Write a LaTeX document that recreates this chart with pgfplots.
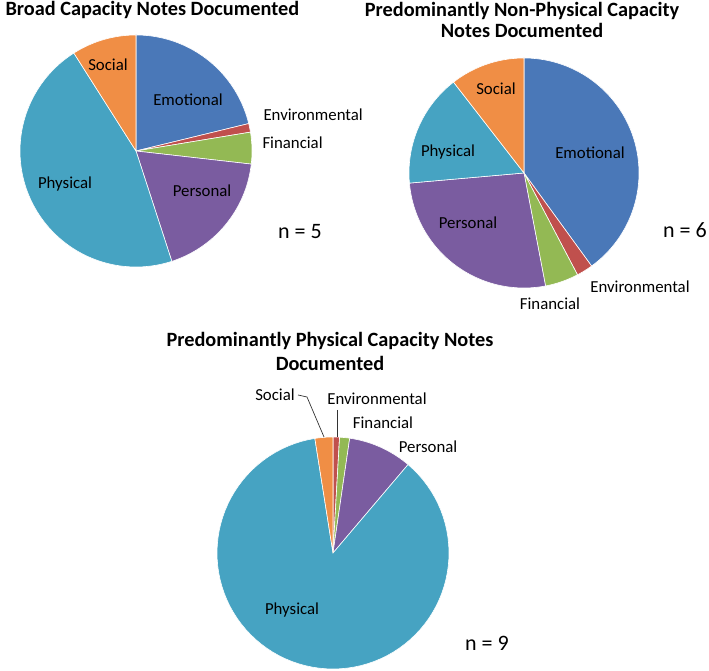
\documentclass[border=0pt]{standalone}
\usepackage{fontspec}
\setmainfont{Carlito}
\usepackage{pgfplots}
\pgfplotsset{compat=1.18}
\definecolor{cEmo}{HTML}{4A78B8}
\definecolor{cEnv}{HTML}{C0504D}
\definecolor{cFin}{HTML}{93B954}
\definecolor{cPer}{HTML}{7A5CA0}
\definecolor{cPhy}{HTML}{46A3C2}
\definecolor{cSoc}{HTML}{F08E45}
\definecolor{lbl}{HTML}{1A1A2A}
% shares (percent), clockwise from 12 o'clock:
% Emotional, Environmental, Financial, Personal, Physical, Social
\def\pieA{21.2/cEmo,1.2/cEnv,4.4/cFin,18.2/cPer,46.0/cPhy,9.0/cSoc}
\def\pieB{40.0/cEmo,2.3/cEnv,4.7/cFin,26.6/cPer,15.9/cPhy,10.5/cSoc}
\def\pieC{0/cEmo,0.9/cEnv,1.4/cFin,8.9/cPer,86.3/cPhy,2.5/cSoc}
\newcommand{\drawpie}[4]{% cx, cy, r, data
  \xdef\aStart{90}%
  \foreach \v/\col in #4 {%
    \ifdim\v pt>0pt
      \pgfmathsetmacro\aEnd{\aStart-3.6*\v}%
      \edef\temp{\noexpand\addplot[fill=\col, draw=white, line width=0.6pt, domain=\aEnd:\aStart, samples=90] ({#1+#3*cos(x)},{#2+#3*sin(x)}) -- (axis cs:#1,#2) -- cycle;}%
      \temp
      \xdef\aStart{\aEnd}%
    \fi
  }%
}
\begin{document}
\begin{tikzpicture}
\begin{axis}[
  width=709pt, height=671pt, scale only axis,
  xmin=0, xmax=709, ymin=0, ymax=671,
  hide axis, clip=false,
  every node/.style={text=lbl},
]
\drawpie{136}{520}{116}{\pieA}
\drawpie{524}{498}{115}{\pieB}
\drawpie{333}{118}{116}{\pieC}
% titles
\begin{scope}[every node/.append style={font=\fontsize{20.3}{24}\selectfont\bfseries, text=black}]
\node[anchor=base west] at (axis cs:2,655) {Broad Capacity Notes Documented};
\node[anchor=base] at (axis cs:522,654) {Predominantly Non-Physical Capacity};
\node[anchor=base] at (axis cs:522,633) {Notes Documented};
\node[anchor=base] at (axis cs:330,324) {Predominantly Physical Capacity Notes};
\node[anchor=base] at (axis cs:330,300) {Documented};
\end{scope}
\begin{scope}[every node/.append style={font=\fontsize{16.8}{20}\selectfont}]
% pie 1 labels
\node at (axis cs:108,606) {Social};
\node at (axis cs:188,571) {Emotional};
\node[anchor=west] at (axis cs:260,556) {Environmental};
\node[anchor=west] at (axis cs:259,528) {Financial};
\node at (axis cs:65,487) {Physical};
\node at (axis cs:202,480) {Personal};
% pie 2 labels
\node at (axis cs:496,582) {Social};
\node at (axis cs:448,519) {Physical};
\node at (axis cs:590,518) {Emotional};
\node at (axis cs:468,448) {Personal};
\node at (axis cs:640,384) {Environmental};
\node at (axis cs:550,367) {Financial};
% pie 3 labels
\node at (axis cs:275,276) {Social};
\node at (axis cs:377,272) {Environmental};
\node at (axis cs:383,248) {Financial};
\node at (axis cs:428,224) {Personal};
\node at (axis cs:292,61) {Physical};
\end{scope}
\begin{scope}[every node/.append style={font=\fontsize{22}{26}\selectfont, text=black}]
\node at (axis cs:300,439) {n = 5};
\node at (axis cs:685,441) {n = 6};
\node at (axis cs:487,28) {n = 9};
\end{scope}
% leader lines (pie 3)
\draw[black!80, line width=0.7pt] (axis cs:298,276) -- (axis cs:307,274) -- (axis cs:324,234);
\draw[black!80, line width=0.7pt] (axis cs:337,261) -- (axis cs:337,234);
\end{axis}
\pgfresetboundingbox
\path (current axis.south west) rectangle (current axis.north east);
\end{tikzpicture}
\end{document}
